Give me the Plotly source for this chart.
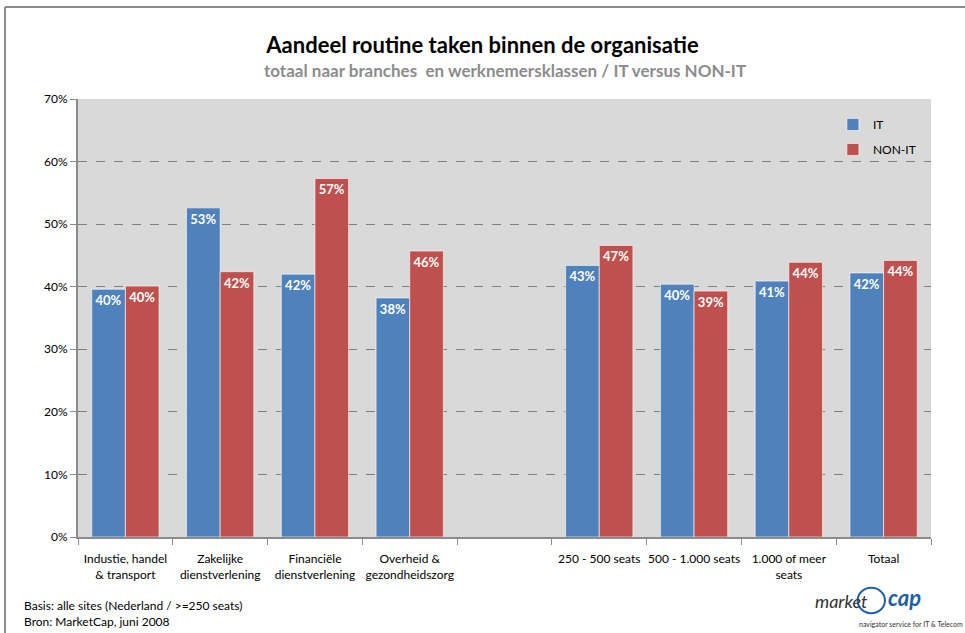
import plotly.graph_objects as go

# ---------------------------------------------------------------------------
# Data
# ---------------------------------------------------------------------------
categories = [
    "Industie, handel<br>& transport",
    "Zakelijke<br>dienstverlening",
    "Financiële<br>dienstverlening",
    "Overheid &<br>gezondheidszorg",
    " ",
    "250 - 500 seats",
    "500 - 1.000 seats",
    "1.000 of meer<br>seats",
    "Totaal",
]
it_values = [39.6, 52.6, 42.0, 38.2, None, 43.4, 40.4, 40.9, 42.2]
non_it_values = [40.1, 42.4, 57.3, 45.7, None, 46.6, 39.3, 43.9, 44.2]
y_ticks = [0, 10, 20, 30, 40, 50, 60, 70]

BLUE = "#4F81BD"
RED = "#C0504D"
FONT = "Lato, sans-serif"


def labels(vals):
    return ["" if v is None else f"{v:.0f}%" for v in vals]


fig = go.Figure()

for name, vals, color in [("IT", it_values, BLUE), ("NON-IT", non_it_values, RED)]:
    fig.add_trace(go.Bar(
        x=categories,
        y=vals,
        name=name,
        legendgroup=name,
        marker=dict(color=color, line=dict(color="rgba(255,255,255,0.6)", width=1)),
        text=labels(vals),
        textposition="inside",
        insidetextanchor="end",
        textangle=0,
        textfont=dict(color="white", size=13, family=FONT, weight="bold"),
        hoverinfo="skip",
    ))

# frame around the chart
frame = dict(type="line", xref="paper", yref="paper", line=dict(color="#8C8C8C", width=2))

fig.update_layout(
    width=965,
    height=633,
    barmode="group",
    bargap=0.29,
    bargroupgap=0.0,
    paper_bgcolor="white",
    plot_bgcolor="#D9D9D9",
    margin=dict(l=78, r=34, t=99, b=96),
    font=dict(family=FONT, size=12, color="black"),
    title=dict(
        text="<b>Aandeel routine taken binnen de organisatie</b>",
        x=0.5, xanchor="center",
        y=1 - 45 / 633, yanchor="middle",
        font=dict(size=22, family=FONT, color="black"),
    ),
    legend=dict(
        x=0.885, xanchor="left",
        y=0.975, yanchor="top",
        bgcolor="rgba(0,0,0,0)",
        font=dict(size=12, family=FONT),
        tracegroupgap=6,
    ),
    xaxis=dict(
        showline=True, linecolor="#8C8C8C", linewidth=2,
        ticks="outside", tickson="boundaries", ticklen=6, tickcolor="#8C8C8C",
        tickfont=dict(size=12, family=FONT),
        tickangle=0,
        ticklabelstandoff=10,
        showgrid=False,
    ),
    yaxis=dict(
        range=[0, 70],
        tickvals=y_ticks,
        ticktext=[f"{v}%" for v in y_ticks],
        showline=True, linecolor="#8C8C8C", linewidth=2,
        ticks="outside", ticklen=6, tickcolor="#8C8C8C",
        showgrid=True, gridcolor="#7F7F7F", griddash="dash", gridwidth=1,
        zeroline=False,
        tickfont=dict(size=12, family=FONT),
    ),
    shapes=[
        dict(frame, x0=-0.0856, x1=1.04, y0=1.21, y1=1.21),
        dict(frame, x0=-0.0856, x1=-0.0856, y0=1.21, y1=-0.22),
        # logo circle
        dict(type="circle", xref="paper", yref="paper",
             x0=0.914, x1=0.946, y0=-0.116, y1=-0.174,
             line=dict(color="#1F5FA8", width=2)),
    ],
    annotations=[
        dict(text="<b>totaal naar branches  en werknemersklassen / IT versus NON-IT</b>",
             xref="paper", yref="paper", x=0.5, y=1.066, xanchor="center", yanchor="middle",
             showarrow=False, font=dict(size=17, family=FONT, color="#8C8C8C")),
        dict(text="Basis: alle sites (Nederland / >=250 seats)", xref="paper", yref="paper",
             x=-0.0657, y=-0.1575, xanchor="left", yanchor="middle", showarrow=False,
             font=dict(size=12, family=FONT)),
        dict(text="Bron: MarketCap, juni 2008", xref="paper", yref="paper",
             x=-0.0657, y=-0.192, xanchor="left", yanchor="middle", showarrow=False,
             font=dict(size=12, family=FONT)),
        dict(text="<i>market</i>", xref="paper", yref="paper",
             x=0.9285, y=-0.146, xanchor="right", yanchor="middle", showarrow=False,
             font=dict(size=18, family=FONT, color="#333333")),
        dict(text="<b><i>cap</i></b>", xref="paper", yref="paper",
             x=0.947, y=-0.137, xanchor="left", yanchor="middle", showarrow=False,
             font=dict(size=22, family=FONT, color="#1F5FA8")),
        dict(text="navigator service for IT &amp; Telecom", xref="paper", yref="paper",
             x=1.04, y=-0.199, xanchor="right", yanchor="middle", showarrow=False,
             font=dict(size=7, family=FONT, color="#333333")),
    ],
)

fig.write_html("out.html", config={"displayModeBar": False},
               post_script="document.body.style.margin='0';")
